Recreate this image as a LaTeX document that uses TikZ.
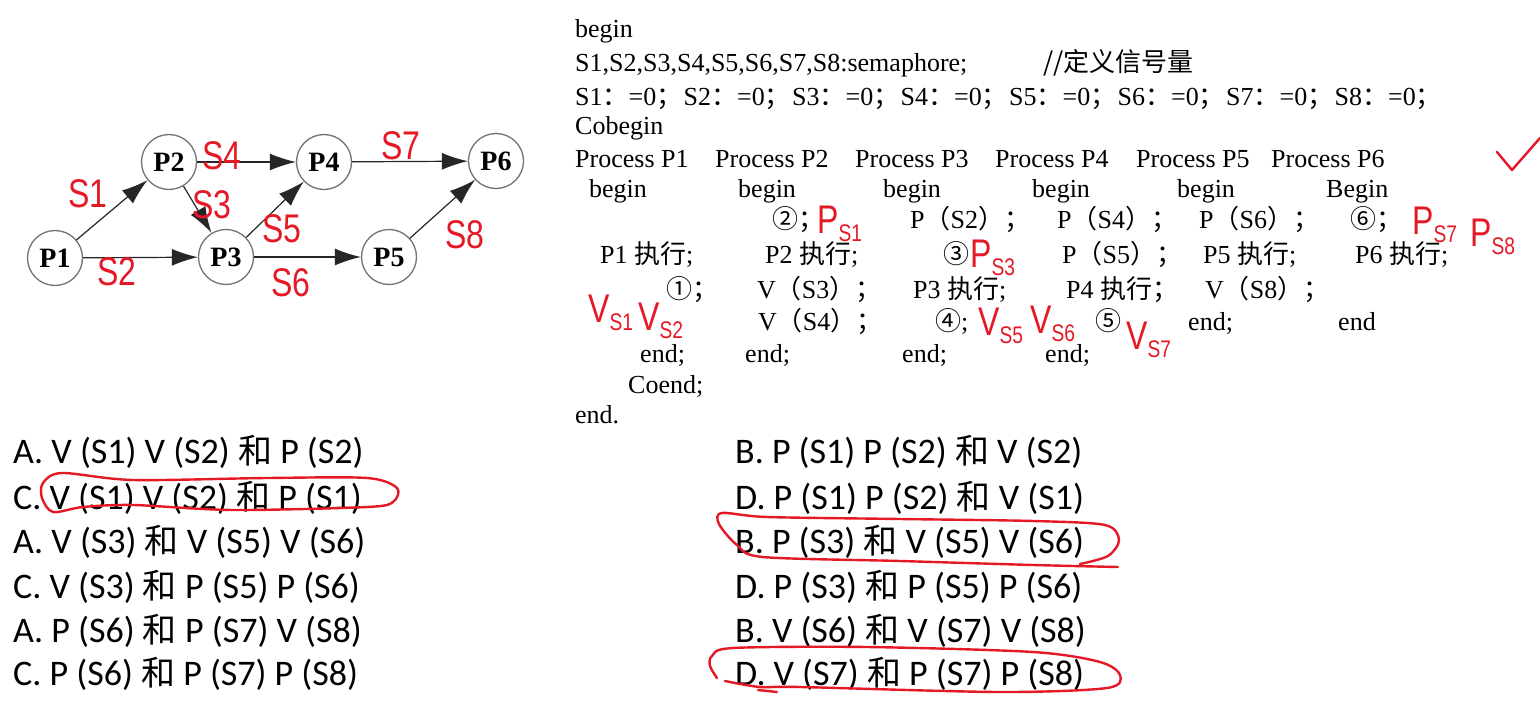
\documentclass[tikz,border=0pt]{standalone}
\usepackage{fontspec}
\setmainfont{Liberation Serif}
\newfontfamily\cjk{Noto Sans CJK SC}
\newfontfamily\optfont{Carlito}
\newfontfamily\handfont[FakeStretch=0.8]{Liberation Sans}
\usetikzlibrary{arrows}
\usetikzlibrary{arrows.meta}
\tikzset{flow/.style = {draw=black!85, line width=1.2pt, -{Latex[length=26pt,width=17pt]}}}
\definecolor{mred}{rgb}{0.9, 0.1, 0.15}
\definecolor{mgray}{rgb}{0.45, 0.45, 0.45}
\newcommand{\redsub}[2]{#1\raisebox{-8pt}{\fontsize{24}{24}\selectfont #2}}
\newcommand{\andch}{{\cjk\fontsize{34}{40}\selectfont 和}}

\begin{document}
\begin{tikzpicture}[x=1pt, y=-1pt,
    proc/.style = {circle, draw=mgray, line width=1.3pt, minimum size=55pt, inner sep=0pt,
                   font=\bfseries\fontsize{28}{28}\selectfont},
    code/.style = {anchor=base west, inner sep=0pt, font=\fontsize{26}{30}\selectfont},
    opt/.style = {anchor=base west, inner sep=0pt, font=\optfont\fontsize{36}{40}\selectfont},
    hand/.style = {anchor=base west, inner sep=0pt, text=mred, font=\handfont\fontsize{40}{40}\selectfont},
    loop/.style = {draw=mred, line width=2.4pt, line cap=round, line join=round}]
    \useasboundingbox [fill=white] (0, 0) rectangle (1540, 709);

    % precedence graph
    \node [proc] (p1) at (55, 258) {P1};
    \node [proc] (p2) at (169, 162) {P2};
    \node [proc] (p3) at (226, 257) {P3};
    \node [proc] (p4) at (324, 162) {P4};
    \node [proc] (p5) at (389, 257) {P5};
    \node [proc] (p6) at (496, 161) {P6};
    \draw [flow] (p1) -- (p2);
    \draw [flow] (p1) -- (p3);
    \draw [flow] (p2) -- (p4);
    \draw [flow] (p2) -- (p3);
    \draw [flow] (p3) -- (p4);
    \draw [flow] (p3) -- (p5);
    \draw [flow] (p4) -- (p6);
    \draw [flow] (p5) -- (p6);

    \node [hand, anchor=center] (s1) at (88, 194) {S1};
    \node [hand, anchor=center] (s2) at (117, 272) {S2};
    \node [hand, anchor=center] (s3) at (212, 205) {S3};
    \node [hand, anchor=center] (s4) at (222, 156) {S4};
    \node [hand, anchor=center] (s5) at (282, 229) {S5};
    \node [hand, anchor=center] (s6) at (291, 283) {S6};
    \node [hand, anchor=center] (s7) at (401, 146) {S7};
    \node [hand, anchor=center] (s8) at (465, 235) {S8};

    % program text
    \node [code] (b0) at (575, 38) {begin};
    \node [code] (decl) at (575, 72) {S1,S2,S3,S4,S5,S6,S7,S8:semaphore;};
    \node [code] (note) at (1043, 72) {{\cjk //定义信号量}};
    \foreach \i in {1,...,8}
        \node [code] (init\i) at ({575+(\i-1)*108.5}, 105) {S\i{\cjk ：}=0{\cjk ；}};
    \node [code] (cob) at (575, 134) {Cobegin};
    \foreach \i/\x in {1/575, 2/715, 3/855, 4/995, 5/1136, 6/1271}
        \node [code] (proc\i) at (\x, 167) {Process P\i};
    \foreach \i/\x in {1/589, 2/738, 3/883, 4/1032, 5/1177}
        \node [code] (beg\i) at (\x, 197) {begin};
    \node [code] (beg6) at (1326, 197) {Begin};

    \node [code] (q2) at (772, 228) {{\cjk ②；}};
    \node [code] (ps2) at (910, 228) {P{\cjk （}S2{\cjk ）；}};
    \node [code] (ps4) at (1057, 228) {P{\cjk （}S4{\cjk ）；}};
    \node [code] (ps6) at (1199, 228) {P{\cjk （}S6{\cjk ）；}};
    \node [code] (q6) at (1350, 228) {{\cjk ⑥；}};

    \node [code] (run1) at (600, 263) {P1 {\cjk 执行};};
    \node [code] (run2) at (765, 263) {P2 {\cjk 执行};};
    \node [code] (q3) at (943, 263) {{\cjk ③}};
    \node [code] (ps5) at (1062, 263) {P{\cjk （}S5{\cjk ）；}};
    \node [code] (run5) at (1203, 263) {P5 {\cjk 执行};};
    \node [code] (run6) at (1355, 263) {P6 {\cjk 执行};};

    \node [code] (q1) at (666, 298) {{\cjk ①；}};
    \node [code] (vs3) at (757, 298) {V{\cjk （}S3{\cjk ）；}};
    \node [code] (run3) at (913, 298) {P3 {\cjk 执行};};
    \node [code] (run4) at (1066, 298) {P4 {\cjk 执行；}};
    \node [code] (vs8) at (1205, 298) {V{\cjk （}S8{\cjk ）；}};

    \node [code] (vs4) at (758, 330) {V{\cjk （}S4{\cjk ）；}};
    \node [code] (q4) at (935, 330) {{\cjk ④};};
    \node [code] (q5) at (1095, 330) {{\cjk ⑤}};
    \node [code] (e5) at (1188, 330) {end;};
    \node [code] (e6) at (1338, 330) {end};

    \foreach \i/\x in {1/640, 2/745, 3/902, 4/1045}
        \node [code] (e\i) at (\x, 362) {end;};
    \node [code] (coe) at (628, 393) {Coend;};
    \node [code] (e0) at (575, 423) {end.};

    % handwritten answers
    \node [hand] (h1) at (817, 233) {\redsub{P}{S1}};
    \node [hand] (h3) at (970, 267) {\redsub{P}{S3}};
    \node [hand] (h7) at (1412, 234) {\redsub{P}{S7}};
    \node [hand] (h8) at (1470, 246) {\redsub{P}{S8}};
    \node [hand] (h1v) at (588, 322) {\redsub{V}{S1}};
    \node [hand] (h2v) at (638, 330) {\redsub{V}{S2}};
    \node [hand] (h5v) at (978, 335) {\redsub{V}{S5}};
    \node [hand] (h6v) at (1030, 333) {\redsub{V}{S6}};
    \node [hand] (h7v) at (1126, 349) {\redsub{V}{S7}};
    \draw [loop] (1497, 152) -- (1512, 170) -- (1540, 138);

    % choices
    \node [opt] (ca1) at (13, 463) {A. V (S1) V (S2) \andch{} P (S2)};
    \node [opt] (cc1) at (13, 509) {C. V (S1) V (S2) \andch{} P (S1)};
    \node [opt] (ca2) at (13, 553) {A. V (S3) \andch{} V (S5) V (S6)};
    \node [opt] (cc2) at (13, 598) {C. V (S3) \andch{} P (S5) P (S6)};
    \node [opt] (ca3) at (13, 642) {A. P (S6) \andch{} P (S7) V (S8)};
    \node [opt] (cc3) at (13, 685) {C. P (S6) \andch{} P (S7) P (S8)};
    \node [opt] (cb1) at (735, 463) {B. P (S1) P (S2) \andch{} V (S2)};
    \node [opt] (cd1) at (735, 509) {D. P (S1) P (S2) \andch{} V (S1)};
    \node [opt] (cb2) at (735, 553) {B. P (S3) \andch{} V (S5) V (S6)};
    \node [opt] (cd2) at (735, 598) {D. P (S3) \andch{} P (S5) P (S6)};
    \node [opt] (cb3) at (735, 642) {B. V (S6) \andch{} V (S7) V (S8)};
    \node [opt] (cd3) at (735, 685) {D. V (S7) \andch{} P (S7) P (S8)};

    \draw [loop] plot [smooth cycle] coordinates {(62, 473) (133, 480) (267, 478) (367, 478) (397, 488)
        (393, 502) (367, 507) (233, 510) (133, 505) (83, 507) (53, 512) (42, 498) (43, 483)};
    \draw [loop] plot [smooth] coordinates {(1080, 564) (1108, 556) (1119, 540) (1105, 525) (1033, 521)
        (900, 519) (767, 517) (722, 513) (719, 524) (737, 545) (763, 557) (900, 561) (1033, 565) (1118, 567)};
    \draw [loop] plot [smooth] coordinates {(717, 678) (710, 666) (712, 656) (733, 648) (867, 647)
        (1033, 652) (1100, 662) (1120, 675) (1107, 688) (1000, 692) (800, 687) (760, 687) (725, 681)};
    \draw [loop] (758, 690) -- (777, 692);
  \end{tikzpicture}
\end{document}
